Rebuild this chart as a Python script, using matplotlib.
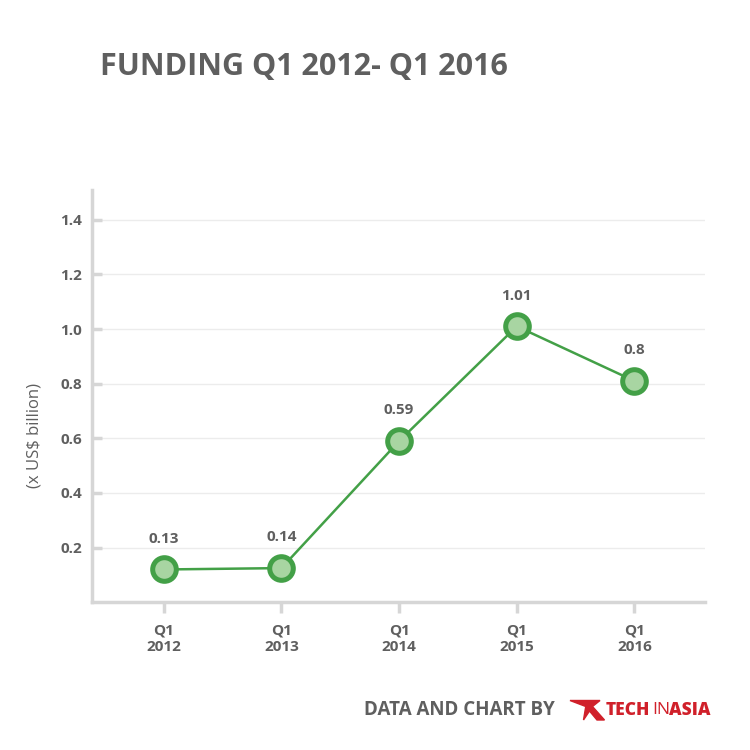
import matplotlib
matplotlib.use("Agg")
import matplotlib.pyplot as plt
from matplotlib.patches import Polygon

# data
quarters = ["Q1\n2012", "Q1\n2013", "Q1\n2014", "Q1\n2015", "Q1\n2016"]
funding = [0.12, 0.125, 0.59, 1.01, 0.81]
funding_labels = ["0.13", "0.14", "0.59", "1.01", "0.8"]
y_ticks = [0.2, 0.4, 0.6, 0.8, 1.0, 1.2, 1.4]

GREY = "#5f5f5f"
AXIS_GREY = "#d6d6d6"
GREEN = "#43a047"
LIGHT_GREEN = "#a8d5a2"
RED = "#d0202a"

plt.rcParams["font.family"] = ["Open Sans", "DejaVu Sans"]

fig = plt.figure(figsize=(7.5, 7.5), dpi=100)
ax = fig.add_axes([0.1227, 0.197, 0.8173, 0.55])

x = list(range(len(quarters)))
ax.plot(x, funding, color=GREEN, linewidth=1.8, marker="o", markersize=17,
        markerfacecolor=LIGHT_GREEN, markeredgecolor=GREEN, markeredgewidth=3.6,
        zorder=3)
for xi, yi, lab in zip(x, funding, funding_labels):
    ax.annotate(lab, (xi, yi), xytext=(0, 17), textcoords="offset points",
                ha="center", va="bottom", fontsize=11, fontweight="bold", color=GREY)

ax.set_xlim(-0.61, 4.6)
ax.set_ylim(0, 1.51)
ax.set_xticks(x)
ax.set_xticklabels(quarters, fontsize=11, fontweight="bold", color=GREY, linespacing=1.25)
ax.set_yticks(y_ticks)
ax.set_yticklabels([f"{t:.1f}" for t in y_ticks], fontsize=11, fontweight="bold", color=GREY)

ax.tick_params(axis="y", direction="in", length=7, width=2.5, color=AXIS_GREY, pad=7)
ax.tick_params(axis="x", direction="out", length=8, width=2.5, color=AXIS_GREY, pad=7)
ax.grid(axis="y", color="#ececec", linewidth=1)
ax.set_axisbelow(True)

for side in ["top", "right"]:
    ax.spines[side].set_visible(False)
for side in ["left", "bottom"]:
    ax.spines[side].set_color(AXIS_GREY)
    ax.spines[side].set_linewidth(2.5)

ax.set_ylabel("(x US$ billion)", fontsize=12, color=GREY)
ax.yaxis.set_label_coords(-0.08, 0.405)

fig.text(0.133, 0.911, "FUNDING Q1 2012- Q1 2016", fontsize=22, fontweight="bold",
         color=GREY, ha="left", va="center")

# footer
fig.text(0.486, 0.053, "DATA AND CHART BY", fontsize=13.5, fontweight="bold",
         color=GREY, ha="left", va="center")
logo = Polygon([[0.760, 0.066], [0.800, 0.066], [0.790, 0.058], [0.806, 0.040],
                [0.796, 0.040], [0.786, 0.052], [0.778, 0.040], [0.781, 0.058]],
               closed=True, transform=fig.transFigure, color=RED)
fig.patches.append(logo)
fig.text(0.807, 0.053, "TECH", fontsize=12.5, fontweight="heavy", color=RED,
         ha="left", va="center")
fig.text(0.870, 0.053, "IN", fontsize=12.5, fontweight="normal", color=RED,
         ha="left", va="center")
fig.text(0.892, 0.053, "ASIA", fontsize=12.5, fontweight="heavy", color=RED,
         ha="left", va="center")

fig.savefig("out.png", dpi=100, facecolor="white")
